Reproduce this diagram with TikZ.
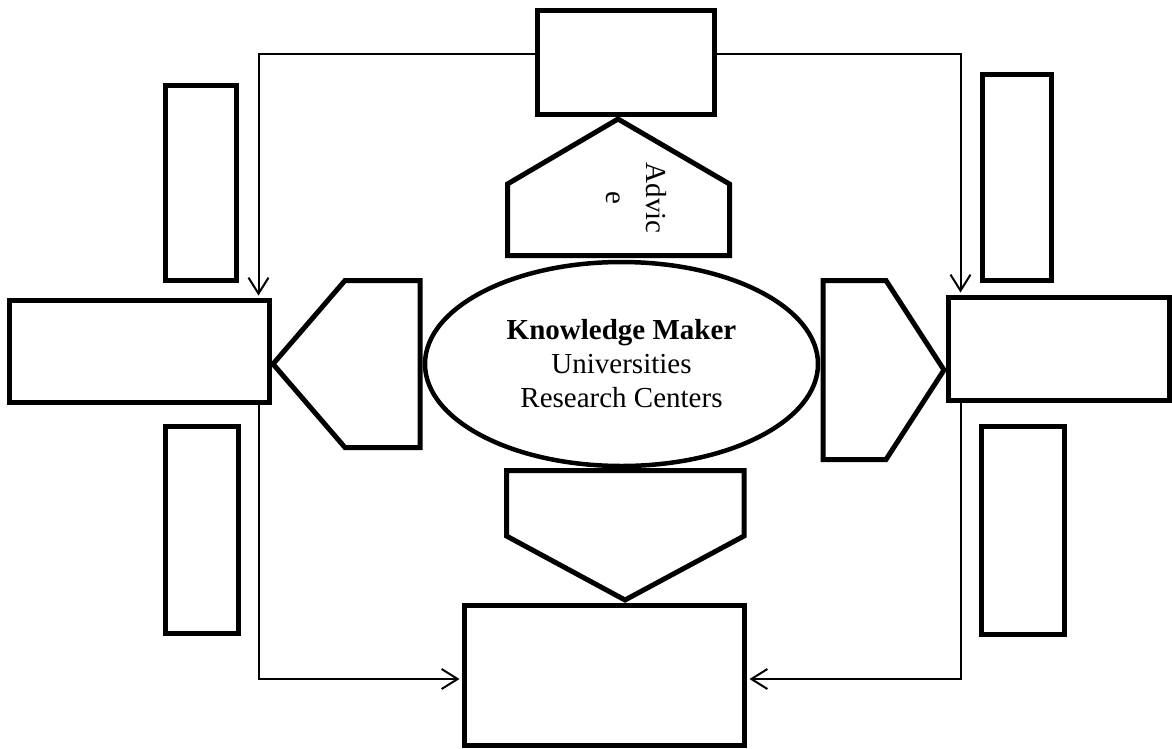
\documentclass[tikz,border=0pt]{standalone}
\usepackage{fontspec}
\setmainfont{Liberation Serif}
\usetikzlibrary{arrows.meta, shapes.geometric}
\tikzset{
  frame/.style={rectangle, draw, line width=5pt, fill=white, inner sep=0pt},
  pointbox/.style={draw, line width=5pt, fill=white, line join=miter},
  hub/.style={ellipse, draw, line width=4.5pt, fill=white, inner sep=0pt,
              minimum width=393pt, minimum height=204pt, align=center,
              font=\fontsize{29}{34}\selectfont},
  vlabel/.style={rotate=-90, align=center, inner sep=0pt, font=\fontsize{29}{40}\selectfont},
  link/.style={-{Straight Barb[length=16pt,width=20pt]}, line width=2pt, shorten >=2.5pt}
}

\begin{document}
\begin{tikzpicture}[x=1pt, y=-1pt]
\useasboundingbox (0,0) rectangle (1172,748);
\node[frame, minimum width=177pt, minimum height=104pt] (tbox) at (626,62.5) {};
\node[frame, minimum width=260pt, minimum height=102pt] (lbox) at (139.5,351.5) {};
\node[frame, minimum width=221pt, minimum height=103pt] (rbox) at (1059,349) {};
\node[frame, minimum width=280pt, minimum height=140pt] (bbox) at (604.5,675.5) {};
\node[frame, minimum width=71pt, minimum height=195pt] (ltop) at (201,183) {};
\node[frame, minimum width=73pt, minimum height=207pt] (lbot) at (202,530) {};
\node[frame, minimum width=69pt, minimum height=206pt] (rtop) at (1017,177.5) {};
\node[frame, minimum width=83pt, minimum height=208pt] (rbot) at (1023,530.5) {};
\draw[pointbox] (507.5,255.5) -- (507.5,184) -- (618,119) -- (729.5,184) -- (729.5,255.5) -- cycle;
\draw[pointbox] (420,280.5) -- (345,280.5) -- (273,364) -- (345,447.5) -- (420,447.5) -- cycle;
\draw[pointbox] (823,280.5) -- (886,280.5) -- (944,370) -- (886,459.5) -- (823,459.5) -- cycle;
\draw[pointbox] (506.5,470.5) -- (744,470.5) -- (744,536) -- (625,600) -- (506.5,536) -- cycle;
\node[vlabel] (advice) at (636,198) {Advic\\e};
\node[hub] (maker) at (621.5,364) {\textbf{Knowledge Maker}\\Universities\\Research Centers};
\draw[link] ([yshift=8.5pt]tbox.west) -| ([xshift=-13.5pt]lbox.north east);
\draw[link] ([yshift=8.5pt]tbox.east) -| ([xshift=14.5pt]rbox.north west);
\draw[link] ([xshift=-13.5pt]lbox.south east) |- ([yshift=-3.5pt]bbox.west);
\draw[link] ([xshift=14.5pt]rbox.south west) |- ([yshift=-3.5pt]bbox.east);
\end{tikzpicture}
\end{document}
